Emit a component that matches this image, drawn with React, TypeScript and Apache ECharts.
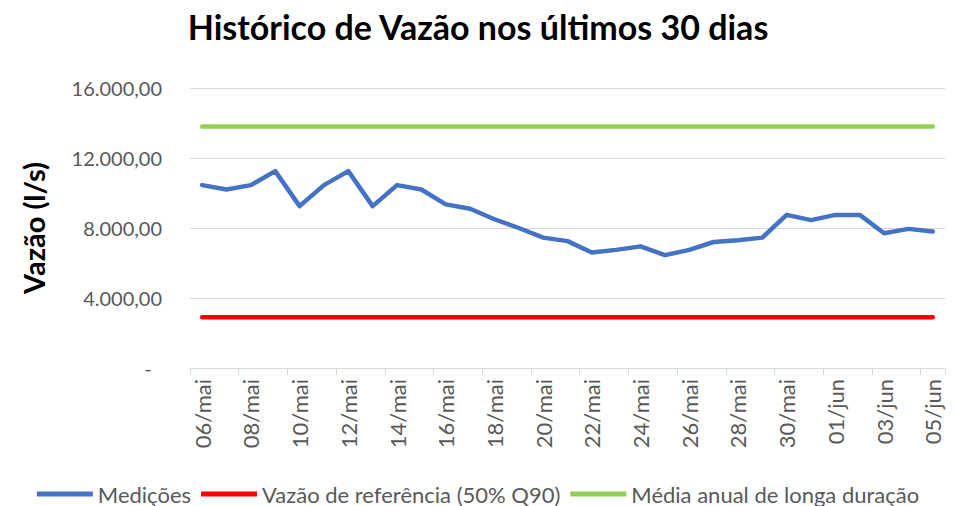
import React, { useEffect, useRef } from "react";
import * as echarts from "echarts";

const dates = [
  "06/mai", "07/mai", "08/mai", "09/mai", "10/mai", "11/mai", "12/mai", "13/mai",
  "14/mai", "15/mai", "16/mai", "17/mai", "18/mai", "19/mai", "20/mai", "21/mai",
  "22/mai", "23/mai", "24/mai", "25/mai", "26/mai", "27/mai", "28/mai", "29/mai",
  "30/mai", "31/mai", "01/jun", "02/jun", "03/jun", "04/jun", "05/jun",
];

const medicoes = [
  10450, 10200, 10450, 11250, 9250, 10450, 11250, 9250,
  10450, 10200, 9350, 9100, 8500, 8000, 7450, 7250,
  6600, 6750, 6950, 6450, 6750, 7200, 7300, 7450,
  8750, 8450, 8750, 8750, 7700, 7950, 7800,
];

const vazaoReferencia = 2900;
const mediaLongaDuracao = 13800;

const seriesNames = [
  "Medições",
  "Vazão de referência (50% Q90)",
  "Média anual de longa duração",
];
const seriesColors = ["#4472C4", "#FF0000", "#92D050"];

const FONT = "Lato, 'Open Sans', sans-serif";

function fmt(v: number): string {
  if (v === 0) return "{dash|-}";
  return v.toLocaleString("pt-BR", { minimumFractionDigits: 2, maximumFractionDigits: 2 });
}

export default function App() {
  const ref = useRef<HTMLDivElement>(null);
  useEffect(() => {
    if (!ref.current) return;
    const chart = echarts.init(ref.current, undefined, { renderer: "svg" });
    chart.setOption({
      animation: false,
      backgroundColor: "#ffffff",
      title: {
        text: "Histórico de Vazão nos últimos 30 dias",
        left: "center",
        top: 4,
        textStyle: { fontFamily: FONT, fontSize: 34, fontWeight: "bold", color: "#000000" },
      },
      legend: {
        top: 478,
        left: "center",
        icon: "rect",
        itemWidth: 56,
        itemHeight: 5,
        itemGap: 10,
        textStyle: { fontFamily: FONT, fontSize: 22, color: "#595959" },
        data: seriesNames,
      },
      grid: { left: 190, right: 11, top: 88, bottom: 138, containLabel: false },
      xAxis: {
        type: "category",
        data: dates,
        boundaryGap: true,
        axisLine: { lineStyle: { color: "#D9D9D9", width: 1 } },
        axisTick: { show: true, interval: 1, length: 7, lineStyle: { color: "#D9D9D9" } },
        axisLabel: {
          interval: 1,
          rotate: 90,
          margin: 11,
          fontFamily: FONT,
          fontSize: 22,
          color: "#595959",
        },
        splitLine: { show: false },
      },
      yAxis: {
        type: "value",
        min: 0,
        max: 16000,
        interval: 4000,
        name: "Vazão (l/s)",
        nameLocation: "middle",
        nameGap: 142,
        nameTextStyle: { fontFamily: FONT, fontSize: 29, fontWeight: "bold", color: "#000000" },
        axisLine: { show: false },
        axisTick: { show: false },
        axisLabel: {
          margin: 28,
          fontFamily: FONT,
          fontSize: 20,
          color: "#595959",
          formatter: (v: number) => fmt(v),
          rich: { dash: { fontFamily: FONT, fontSize: 20, color: "#595959", padding: [0, 10, 0, 0] } },
        },
        splitLine: { lineStyle: { color: "#D9D9D9", width: 1 } },
      },
      series: [
        {
          name: seriesNames[0],
          type: "line",
          data: medicoes,
          symbol: "none",
          lineStyle: { color: seriesColors[0], width: 4.5, cap: "round", join: "round" },
          itemStyle: { color: seriesColors[0] },
        },
        {
          name: seriesNames[1],
          type: "line",
          data: dates.map(() => vazaoReferencia),
          symbol: "none",
          lineStyle: { color: seriesColors[1], width: 4.5, cap: "round" },
          itemStyle: { color: seriesColors[1] },
        },
        {
          name: seriesNames[2],
          type: "line",
          data: dates.map(() => mediaLongaDuracao),
          symbol: "none",
          lineStyle: { color: seriesColors[2], width: 4.5, cap: "round" },
          itemStyle: { color: seriesColors[2] },
        },
      ],
    });
    return () => chart.dispose();
  }, []);
  return (
    <div
      ref={ref}
      style={{ position: "fixed", left: 0, top: 0, width: 956, height: 506 }}
    />
  );
}
